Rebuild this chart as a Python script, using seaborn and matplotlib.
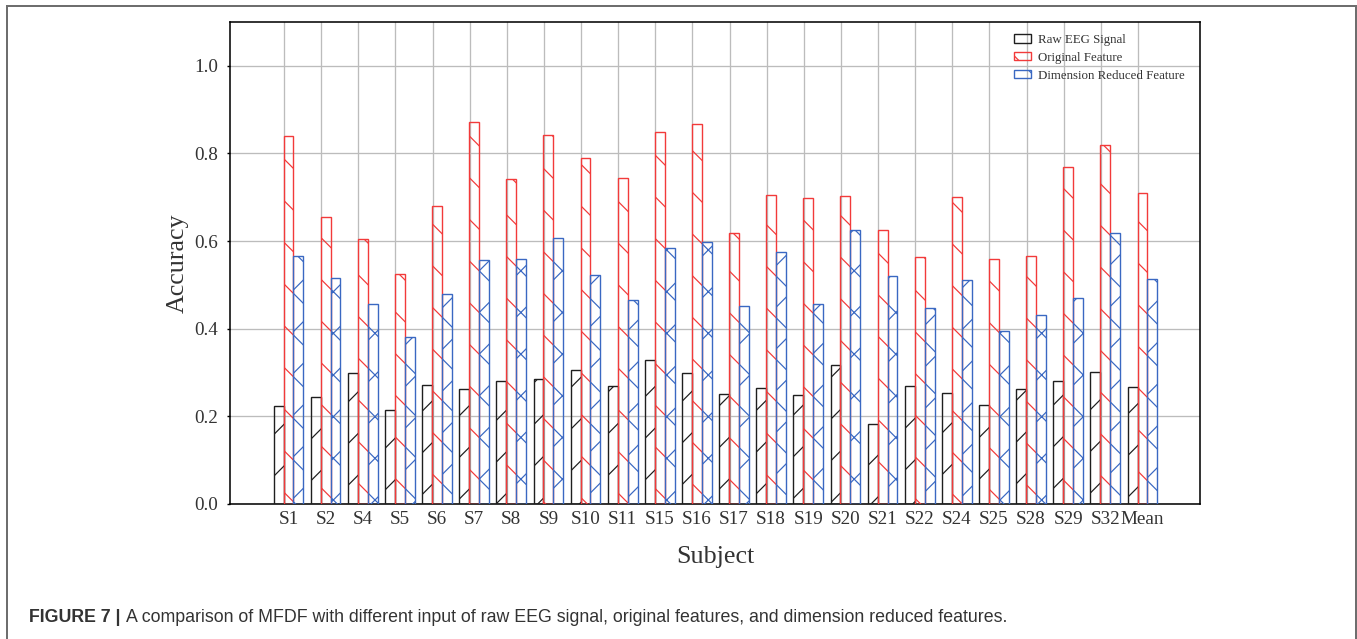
import matplotlib
matplotlib.use("Agg")
import matplotlib.pyplot as plt
from matplotlib.patches import Patch
from matplotlib.lines import Line2D
import seaborn as sns
import pandas as pd
import numpy as np

subjects = ["S1", "S2", "S4", "S5", "S6", "S7", "S8", "S9", "S10", "S11", "S15", "S16",
            "S17", "S18", "S19", "S20", "S21", "S22", "S24", "S25", "S28", "S29", "S32", "Mean"]
raw_eeg = [0.224, 0.245, 0.298, 0.215, 0.272, 0.263, 0.281, 0.285, 0.305, 0.269, 0.329, 0.300,
           0.250, 0.265, 0.249, 0.317, 0.182, 0.270, 0.253, 0.225, 0.263, 0.281, 0.301, 0.267]
original = [0.840, 0.654, 0.604, 0.524, 0.680, 0.871, 0.742, 0.842, 0.790, 0.744, 0.849, 0.868,
            0.618, 0.706, 0.698, 0.702, 0.626, 0.563, 0.701, 0.559, 0.565, 0.770, 0.820, 0.710]
reduced = [0.566, 0.515, 0.457, 0.380, 0.480, 0.556, 0.559, 0.607, 0.523, 0.465, 0.584, 0.599,
           0.451, 0.575, 0.456, 0.625, 0.521, 0.447, 0.511, 0.395, 0.431, 0.470, 0.618, 0.513]
series = ["Raw EEG Signal", "Original Feature", "Dimension Reduced Feature"]
colors = ["#1e1e1e", "#f23a3a", "#3a68c2"]
hatches = ["/", "\\", "x"]
y_ticks = [0.0, 0.2, 0.4, 0.6, 0.8, 1.0]

DPI = 125
W, H = 1357, 639
plt.rcParams["font.family"] = ["Liberation Serif", "DejaVu Serif"]
plt.rcParams["hatch.linewidth"] = 0.7

df = pd.DataFrame({
    "Subject": subjects * 3,
    "Accuracy": raw_eeg + original + reduced,
    "Input": [series[0]] * len(subjects) + [series[1]] * len(subjects) + [series[2]] * len(subjects),
})

fig = plt.figure(figsize=(W / DPI, H / DPI), dpi=DPI)
ax = fig.add_axes([230 / W, 1 - 504 / H, 970 / W, 482 / H])

sns.barplot(data=df, x="Subject", y="Accuracy", hue="Input", order=subjects,
            hue_order=series, palette=colors, fill=False, linewidth=0.8,
            width=0.8, errorbar=None, legend=False, ax=ax, zorder=3)

for cont, h, c in zip(ax.containers, hatches, colors):
    for bar in cont:
        bar.set_hatch(h)
        bar.set_facecolor("none")
        bar.set_edgecolor(c)

ax.set_xlim(-1.576, 24.55)
ax.set_ylim(0, 1.1)
ax.set_yticks(y_ticks)
ax.set_yticklabels([f"{v:.1f}" for v in y_ticks])
ax.set_xticks(np.arange(len(subjects)))
ax.set_xticklabels(subjects)
ax.set_xticks(np.arange(len(subjects)) - 0.121, minor=True)

ax.grid(False)
ax.grid(True, which="minor", axis="x", color="#bcbcbc", linewidth=0.75, zorder=0)
ax.grid(True, which="major", axis="y", color="#bcbcbc", linewidth=0.75, zorder=0)
ax.set_axisbelow(True)

ax.tick_params(axis="x", which="both", length=0, pad=4, labelsize=11, labelcolor="#333333")
ax.tick_params(axis="y", which="major", length=1.8, width=0.8, direction="out", pad=5,
               labelsize=11, labelcolor="#333333", color="black")
for s in ax.spines.values():
    s.set_linewidth(0.9)
    s.set_color("black")

ax.set_xlabel("Subject", fontsize=15, color="#333333")
ax.set_ylabel("Accuracy", fontsize=15, color="#333333")
ax.xaxis.label.set_va("center")
ax.yaxis.label.set_va("center")
ax.xaxis.set_label_coords(0.5, (504 - 557) / 482)
ax.yaxis.set_label_coords((178 - 230) / 970, 0.5)

handles = [Patch(facecolor="none", edgecolor=c, hatch=h, linewidth=0.8, label=l)
           for c, h, l in zip(colors, hatches, series)]
leg = ax.legend(handles=handles, loc="upper left",
                bbox_to_anchor=(1014 / W, 1 - 34 / H), bbox_transform=fig.transFigure,
                frameon=False, fontsize=7.4, handlelength=1.3, handleheight=0.6,
                handletextpad=0.6, labelspacing=0.46, borderpad=0, borderaxespad=0)
for t in leg.get_texts():
    t.set_color("#333333")

# outer frame (open at the bottom)
frame_kw = dict(color="#6e6e6e", linewidth=1.15, transform=fig.transFigure)
fig.add_artist(Line2D([7 / W, 7 / W], [0, 1 - 6 / H], **frame_kw))
fig.add_artist(Line2D([1356 / W, 1356 / W], [0, 1 - 6 / H], **frame_kw))
fig.add_artist(Line2D([7 / W, 1356 / W], [1 - 6 / H, 1 - 6 / H], **frame_kw))

# caption
cap_y = 1 - 622 / H
t1 = fig.text(29 / W, cap_y, "FIGURE 7 |", fontsize=10.25, fontweight="bold",
              family=["Liberation Sans", "DejaVu Sans"], color="#333333", va="baseline")
fig.canvas.draw()
bb = t1.get_window_extent()
fig.text(bb.x1 / W + 5 / W, cap_y,
         "A comparison of MFDF with different input of raw EEG signal, original features, and dimension reduced features.",
         fontsize=10.25, family=["Liberation Sans", "DejaVu Sans"], color="#333333", va="baseline")

fig.savefig("out.png", dpi=DPI)
